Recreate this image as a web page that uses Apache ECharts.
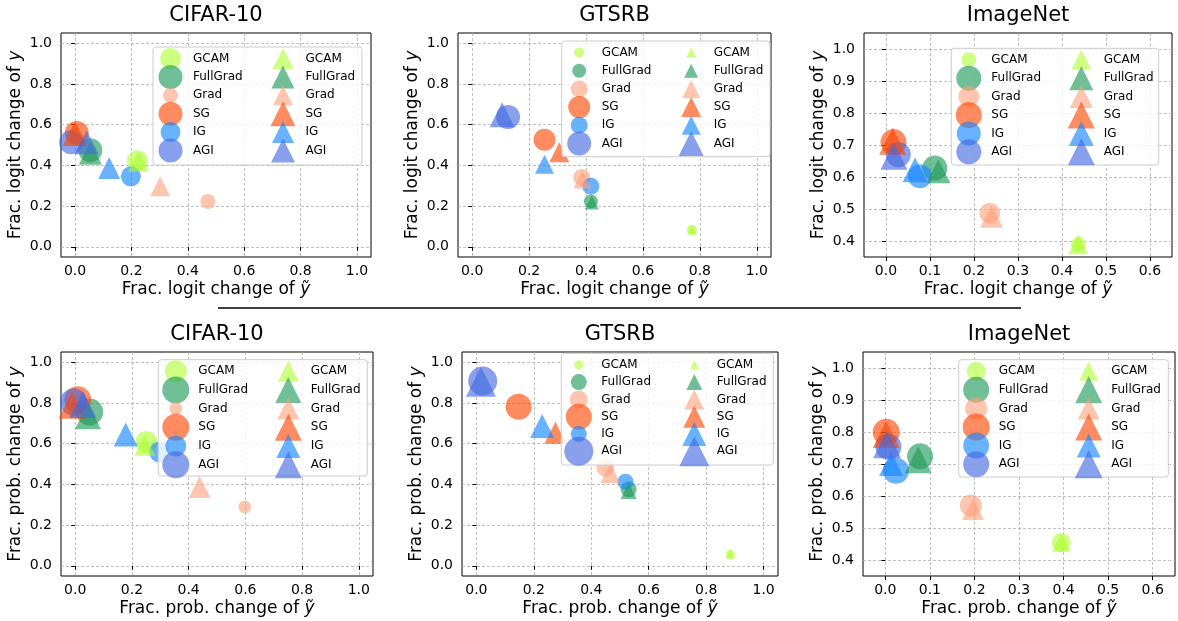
<!DOCTYPE html>
<html><head><meta charset="utf-8">
<script src="https://cdn.jsdelivr.net/npm/echarts@6/dist/echarts.min.js"></script>
<style>html,body{margin:0;padding:0;background:#fff}#c{width:1178px;height:621px}</style>
</head><body><div id="c"></div>
<script>
// ---------- data ----------
const methods = ['GCAM', 'FullGrad', 'Grad', 'SG', 'IG', 'AGI'];
const methodColors = ['rgba(173,255,47,0.75)', 'rgba(31,155,91,0.8)', 'rgba(255,160,122,0.75)',
                      'rgba(255,69,0,0.78)', 'rgba(20,135,255,0.8)', 'rgba(65,105,225,0.78)'];
const panelTitles = ['CIFAR-10', 'GTSRB', 'ImageNet', 'CIFAR-10', 'GTSRB', 'ImageNet'];
const panelMetric = ['logit', 'logit', 'logit', 'prob.', 'prob.', 'prob.'];
const unitTicks = [0, 0.2, 0.4, 0.6, 0.8, 1.0];
const imagenetXTicks = [0, 0.1, 0.2, 0.3, 0.4, 0.5, 0.6];
const imagenetYTicks = [0.4, 0.5, 0.6, 0.7, 0.8, 0.9, 1.0];

// CIFAR-10, logit
const cifarLogitCircleX = [0.221, 0.054, 0.471, 0.006, 0.198, -0.014];
const cifarLogitCircleY = [0.423, 0.474, 0.223, 0.559, 0.346, 0.513];
const cifarLogitCircleSize = [21, 24, 15, 24, 20, 24];
const cifarLogitTriX = [0.225, 0.054, 0.302, 0.0, 0.121, 0.041];
const cifarLogitTriY = [0.42, 0.46, 0.297, 0.556, 0.387, 0.513];
const cifarLogitTriSize = [21, 23, 20, 25, 22, 24];
// GTSRB, logit
const gtsrbLogitCircleX = [0.772, 0.417, 0.385, 0.254, 0.417, 0.126];
const gtsrbLogitCircleY = [0.084, 0.223, 0.341, 0.526, 0.297, 0.638];
const gtsrbLogitCircleSize = [10, 14, 17, 22, 17, 24];
const gtsrbLogitTriX = [0.772, 0.42, 0.387, 0.306, 0.254, 0.105];
const gtsrbLogitTriY = [0.084, 0.218, 0.33, 0.464, 0.405, 0.648];
const gtsrbLogitTriSize = [10, 14, 18, 20, 19, 25];
// ImageNet, logit
const imagenetLogitCircleX = [0.437, 0.111, 0.236, 0.017, 0.077, 0.028];
const imagenetLogitCircleY = [0.39, 0.628, 0.487, 0.709, 0.602, 0.67];
const imagenetLogitCircleSize = [15, 25, 21, 26, 24, 25];
const imagenetLogitTriX = [0.437, 0.119, 0.24, 0.015, 0.066, 0.018];
const imagenetLogitTriY = [0.39, 0.618, 0.477, 0.712, 0.623, 0.665];
const imagenetLogitTriSize = [20, 24, 23, 27, 25, 27];
// CIFAR-10, prob
const cifarProbCircleX = [0.251, 0.051, 0.598, 0.009, 0.298, -0.006];
const cifarProbCircleY = [0.608, 0.755, 0.289, 0.815, 0.559, 0.804];
const cifarProbCircleSize = [22, 27, 13, 27, 21, 27];
const cifarProbTriX = [0.245, 0.045, 0.439, -0.011, 0.178, 0.027];
const cifarProbTriY = [0.592, 0.734, 0.387, 0.788, 0.645, 0.792];
const cifarProbTriSize = [21, 26, 22, 27, 24, 27];
// GTSRB, prob
const gtsrbProbCircleX = [0.884, 0.53, 0.449, 0.147, 0.519, 0.022];
const gtsrbProbCircleY = [0.057, 0.376, 0.482, 0.781, 0.413, 0.907];
const gtsrbProbCircleSize = [9, 16, 18, 26, 16, 29];
const gtsrbProbTriX = [0.884, 0.53, 0.466, 0.275, 0.229, 0.016];
const gtsrbProbTriY = [0.057, 0.368, 0.454, 0.654, 0.686, 0.904];
const gtsrbProbTriSize = [9, 16, 20, 22, 24, 30];
// ImageNet, prob
const imagenetProbCircleX = [0.395, 0.078, 0.192, 0.002, 0.024, 0.007];
const imagenetProbCircleY = [0.455, 0.724, 0.57, 0.799, 0.679, 0.754];
const imagenetProbCircleSize = [19, 26, 22, 27, 26, 26];
const imagenetProbTriX = [0.395, 0.074, 0.197, 0.002, 0.013, 0.004];
const imagenetProbTriY = [0.455, 0.713, 0.559, 0.792, 0.70, 0.762];
const imagenetProbTriSize = [19, 27, 22, 27, 24, 28];

const panelData = [
  [cifarLogitCircleX, cifarLogitCircleY, cifarLogitCircleSize, cifarLogitTriX, cifarLogitTriY, cifarLogitTriSize],
  [gtsrbLogitCircleX, gtsrbLogitCircleY, gtsrbLogitCircleSize, gtsrbLogitTriX, gtsrbLogitTriY, gtsrbLogitTriSize],
  [imagenetLogitCircleX, imagenetLogitCircleY, imagenetLogitCircleSize, imagenetLogitTriX, imagenetLogitTriY, imagenetLogitTriSize],
  [cifarProbCircleX, cifarProbCircleY, cifarProbCircleSize, cifarProbTriX, cifarProbTriY, cifarProbTriSize],
  [gtsrbProbCircleX, gtsrbProbCircleY, gtsrbProbCircleSize, gtsrbProbTriX, gtsrbProbTriY, gtsrbProbTriSize],
  [imagenetProbCircleX, imagenetProbCircleY, imagenetProbCircleSize, imagenetProbTriX, imagenetProbTriY, imagenetProbTriSize]
];

// ---------- layout ----------
const FONT = 'DejaVu Sans';
const grids = [
  {left: 61, top: 33, width: 310, height: 224},
  {left: 458, top: 33, width: 313, height: 224},
  {left: 864, top: 33, width: 308, height: 224},
  {left: 61, top: 352, width: 312, height: 224},
  {left: 462, top: 352, width: 316, height: 224},
  {left: 863, top: 352, width: 312, height: 224}
];
const isImageNet = [false, false, true, false, false, true];
const legendBoxes = [
  {x: 153, y: 47, w: 209, h: 118, gap: 18.4, col: 112.5},
  {x: 561.7, y: 41, w: 208.3, h: 115.7, gap: 18.2, col: 112},
  {x: 951.3, y: 48.3, w: 207.4, h: 116.7, gap: 18.4, col: 112.5},
  {x: 158.3, y: 359.7, w: 209, h: 116.3, gap: 18.7, col: 112.5},
  {x: 561.3, y: 353.3, w: 212, h: 111.7, gap: 17.3, col: 115.5},
  {x: 958.7, y: 359.7, w: 209.6, h: 117.3, gap: 18.6, col: 112.5}
];
const IW = 35, IH = 32;

function circleIcon(s) {
  const r = s / 2, cx = IW / 2, cy = IH / 2;
  return `path://M0,0M${IW},${IH}M${cx - r},${cy}A${r},${r},0,1,0,${cx + r},${cy}A${r},${r},0,1,0,${cx - r},${cy}Z`;
}
function triIcon(s) {
  const h = s / 2, cx = IW / 2, cy = IH / 2;
  return `path://M0,0M${IW},${IH}M${cx},${cy - h}L${cx + h},${cy + h}L${cx - h},${cy + h}Z`;
}

const option = {
  animation: false,
  backgroundColor: '#fff',
  textStyle: {fontFamily: FONT},
  title: [], grid: [], xAxis: [], yAxis: [], series: [], legend: [],
  graphic: [{
    type: 'line', shape: {x1: 218, y1: 308, x2: 1021, y2: 308},
    style: {stroke: '#000', lineWidth: 1.5}, z: 10
  }]
};

const gridLine = {show: true, lineStyle: {color: '#b0b0b0', width: 0.8, type: [3, 2]}};

for (let p = 0; p < 6; p++) {
  const g = grids[p];
  option.grid.push({left: g.left, top: g.top, width: g.width, height: g.height,
    show: true, borderColor: '#000', borderWidth: 1, backgroundColor: 'transparent'});
  option.title.push({text: panelTitles[p], left: g.left + g.width / 2, top: g.top - 28, textAlign: 'center',
    padding: 0, textStyle: {fontFamily: FONT, fontSize: 21, fontWeight: 'normal', color: '#000'}});
  const inet = isImageNet[p];
  const xt = inet ? imagenetXTicks : unitTicks;
  const yt = inet ? imagenetYTicks : unitTicks;
  const rich = {i: {fontStyle: 'italic', fontFamily: FONT, fontSize: 17, color: '#000'}};
  option.xAxis.push({
    type: 'value', gridIndex: p, min: -0.05, max: inet ? 0.65 : 1.05,
    name: `Frac. ${panelMetric[p]} change of {i|ỹ}`, nameLocation: 'middle', nameGap: 24,
    nameTextStyle: {fontFamily: FONT, fontSize: 17, color: '#000', rich: rich},
    axisLine: {show: false},
    axisTick: {show: true, length: 4, customValues: xt, lineStyle: {color: '#000', width: 1}},
    axisLabel: {customValues: xt, formatter: v => v.toFixed(1), fontFamily: FONT, fontSize: 14, color: '#000', margin: 7},
    splitLine: gridLine
  });
  option.yAxis.push({
    type: 'value', gridIndex: p, min: inet ? 0.35 : -0.05, max: 1.05,
    name: `Frac. ${panelMetric[p]} change of {i|y}`, nameLocation: 'middle', nameGap: 37,
    nameTextStyle: {fontFamily: FONT, fontSize: 17, color: '#000', rich: rich},
    axisLine: {show: false},
    axisTick: {show: true, length: 4, customValues: yt, lineStyle: {color: '#000', width: 1}},
    axisLabel: {customValues: yt, formatter: v => v.toFixed(1), fontFamily: FONT, fontSize: 14, color: '#000', margin: 9},
    splitLine: gridLine
  });
  const d = panelData[p];
  const circleLegend = [], triLegend = [];
  // circles first, then triangles (triangles drawn on top)
  for (let m = 0; m < 6; m++) {
    option.series.push({
      type: 'scatter', name: methods[m], xAxisIndex: p, yAxisIndex: p,
      symbol: 'circle', symbolSize: d[2][m], data: [[d[0][m], d[1][m]]],
      itemStyle: {color: methodColors[m]}, emphasis: {disabled: true}, z: 2
    });
    circleLegend.push({name: methods[m], icon: circleIcon(d[2][m])});
  }
  for (let m = 0; m < 6; m++) {
    option.series.push({
      type: 'scatter', name: methods[m] + ' ', xAxisIndex: p, yAxisIndex: p,
      symbol: 'triangle', symbolSize: d[5][m], data: [[d[3][m], d[4][m]]],
      itemStyle: {color: methodColors[m]}, emphasis: {disabled: true}, z: 2
    });
    triLegend.push({name: methods[m] + ' ', icon: triIcon(d[5][m])});
  }
  const lb = legendBoxes[p];
  option.graphic.push({
    type: 'rect', shape: {x: lb.x, y: lb.y, width: lb.w, height: lb.h, r: 3},
    style: {fill: 'rgba(255,255,255,0.8)', stroke: '#cccccc', lineWidth: 1}, z: 3
  });
  const legendCommon = {
    orient: 'vertical', padding: 0, itemWidth: IW, itemHeight: IH, itemGap: lb.gap - IH,
    selectedMode: false, symbolKeepAspect: true, z: 4,
    formatter: n => n.trim(),
    textStyle: {fontFamily: FONT, fontSize: 12, color: '#000'}
  };
  option.legend.push(Object.assign({}, legendCommon, {left: lb.x, top: lb.y + 11.5 - IH / 2, data: circleLegend}));
  option.legend.push(Object.assign({}, legendCommon, {left: lb.x + lb.col, top: lb.y + 11.5 - IH / 2, data: triLegend}));
}

const chart = echarts.init(document.getElementById('c'), null, {renderer: 'canvas'});
chart.setOption(option);
</script>
</body></html>
